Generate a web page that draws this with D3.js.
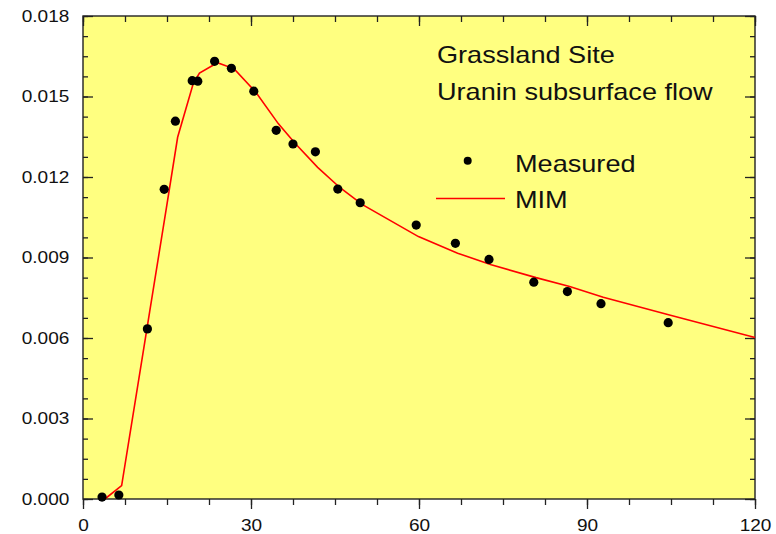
<!DOCTYPE html>
<html>
<head>
<meta charset="utf-8">
<script src="https://cdn.jsdelivr.net/npm/d3@7/dist/d3.min.js"></script>
<style>
  html, body { margin: 0; padding: 0; background: #ffffff; }
  svg { display: block; }
  text { font-family: "Liberation Sans", Arial, sans-serif; fill: #111; }
</style>
</head>
<body>
<svg id="chart" width="776" height="534"></svg>
<script>
// Measured tracer breakthrough (time in min, concentration)
const measuredTime = [3.4, 6.4, 11.5, 14.5, 16.5, 19.5, 20.5, 23.5, 26.5, 30.5, 34.5,
  37.5, 41.5, 45.5, 49.5, 59.5, 66.5, 72.5, 80.5, 86.5, 92.5, 104.5];
const measuredConc = [0.00007, 0.00015, 0.00634, 0.01154, 0.01408, 0.01559, 0.01557,
  0.01631, 0.01605, 0.01520, 0.01374, 0.01323, 0.01294, 0.01155, 0.01104, 0.01021,
  0.00953, 0.00893, 0.00808, 0.00773, 0.00728, 0.00657];

// MIM model curve
const mimTime = [3.9, 6.9, 11.9, 14.9, 16.9, 19.7, 20.8, 24.0, 27.0, 30.9, 34.9, 37.9,
  41.9, 45.9, 49.9, 59.9, 66.9, 72.9, 80.9, 86.9, 92.9, 104.9, 120];
const mimConc = [0.0, 0.0005, 0.00697, 0.01086, 0.01348, 0.01549, 0.01587, 0.01626,
  0.01603, 0.01515, 0.01398, 0.01325, 0.01236, 0.01160, 0.01097, 0.00978, 0.00916,
  0.00873, 0.00825, 0.00792, 0.00752, 0.00685, 0.00602];

// Axis ticks
const xMajorTicks = [0, 30, 60, 90, 120];
const xMinorTicks = [0, 7.5, 15, 22.5, 30, 37.5, 45, 52.5, 60, 67.5, 75, 82.5, 90, 97.5, 105, 112.5, 120];
const yMajorTicks = [0, 0.003, 0.006, 0.009, 0.012, 0.015, 0.018];
const yMinorTicks = d3.range(0, 0.01801, 0.00075);

const titleLines = ["Grassland Site", "Uranin subsurface flow"];
const legendLabels = ["Measured", "MIM"];

const svg = d3.select("#chart");
const plotLeft = 83, plotRight = 755, plotTop = 16, plotBottom = 499;
const stretch = 1.12;

const x = d3.scaleLinear().domain([0, 120]).range([plotLeft, plotRight]);
const y = d3.scaleLinear().domain([0, 0.018]).range([plotBottom, plotTop]);

// plot background
svg.append("rect")
  .attr("x", plotLeft).attr("y", plotTop)
  .attr("width", plotRight - plotLeft).attr("height", plotBottom - plotTop)
  .attr("fill", "#ffff80");

const axisColor = "#222";
function styleAxis(g) {
  g.select(".domain").remove();
  g.selectAll("line").attr("stroke", axisColor).attr("stroke-width", 1.3);
}

// bottom axis: ticks outward, with labels
svg.append("g").attr("transform", `translate(0,${plotBottom})`)
  .call(d3.axisBottom(x).tickValues(xMinorTicks).tickSize(6).tickFormat(""))
  .call(styleAxis);
svg.append("g").attr("transform", `translate(0,${plotBottom})`)
  .call(d3.axisBottom(x).tickValues(xMajorTicks).tickSize(10).tickPadding(12).tickFormat(d3.format("d")))
  .call(styleAxis)
  .call(g => g.selectAll("text")
    .attr("y", 32.5)
    .attr("dy", null)
    .style("font-size", "17px")
    .attr("transform", `scale(${stretch},1)`));

// top axis: ticks inward
svg.append("g").attr("transform", `translate(0,${plotTop})`)
  .call(d3.axisTop(x).tickValues(xMinorTicks).tickSize(-6).tickFormat(""))
  .call(styleAxis);
svg.append("g").attr("transform", `translate(0,${plotTop})`)
  .call(d3.axisTop(x).tickValues(xMajorTicks).tickSize(-10).tickFormat(""))
  .call(styleAxis);

// left axis: ticks inward, with labels
svg.append("g").attr("transform", `translate(${plotLeft},0)`)
  .call(d3.axisLeft(y).tickValues(yMinorTicks).tickSize(-5).tickFormat(""))
  .call(styleAxis);
svg.append("g").attr("transform", `translate(${plotLeft},0)`)
  .call(d3.axisLeft(y).tickValues(yMajorTicks).tickSize(-10).tickPadding(12).tickFormat(d3.format(".3f")))
  .call(styleAxis)
  .call(g => g.selectAll("text")
    .attr("x", -12.2)
    .style("font-size", "17px")
    .attr("transform", `scale(${stretch},1)`));

// right axis: ticks inward
svg.append("g").attr("transform", `translate(${plotRight},0)`)
  .call(d3.axisRight(y).tickValues(yMinorTicks).tickSize(-5).tickFormat(""))
  .call(styleAxis);
svg.append("g").attr("transform", `translate(${plotRight},0)`)
  .call(d3.axisRight(y).tickValues(yMajorTicks).tickSize(-10).tickFormat(""))
  .call(styleAxis);

// frame
svg.append("rect")
  .attr("x", plotLeft).attr("y", plotTop)
  .attr("width", plotRight - plotLeft).attr("height", plotBottom - plotTop)
  .attr("fill", "none").attr("stroke", axisColor).attr("stroke-width", 1.4);

// model curve
const mim = mimTime.map((t, i) => [t, mimConc[i]]);
svg.append("path")
  .datum(mim)
  .attr("fill", "none")
  .attr("stroke", "#ff0000")
  .attr("stroke-width", 1.6)
  .attr("d", d3.line().x(d => x(d[0])).y(d => y(d[1])));

// measured points
const measured = measuredTime.map((t, i) => [t, measuredConc[i]]);
svg.append("g").selectAll("circle")
  .data(measured)
  .join("circle")
  .attr("cx", d => x(d[0]))
  .attr("cy", d => y(d[1]))
  .attr("r", 4.6)
  .attr("fill", "#000");

// horizontally stretched text
function label(px, py, str, size) {
  svg.append("text")
    .attr("transform", `translate(${px},${py}) scale(${stretch + 0.01},1)`)
    .style("font-size", size + "px")
    .text(str);
}

// site annotation
label(437, 63, titleLines[0], 24);
label(437, 100, titleLines[1], 24);

// legend
svg.append("circle").attr("cx", 467.7).attr("cy", 160.7).attr("r", 4).attr("fill", "#000");
label(515, 171.5, legendLabels[0], 24);
svg.append("line")
  .attr("x1", 436).attr("x2", 505).attr("y1", 198.5).attr("y2", 198.5)
  .attr("stroke", "#ff0000").attr("stroke-width", 1.4);
label(515, 208, legendLabels[1], 24);
</script>
</body>
</html>
